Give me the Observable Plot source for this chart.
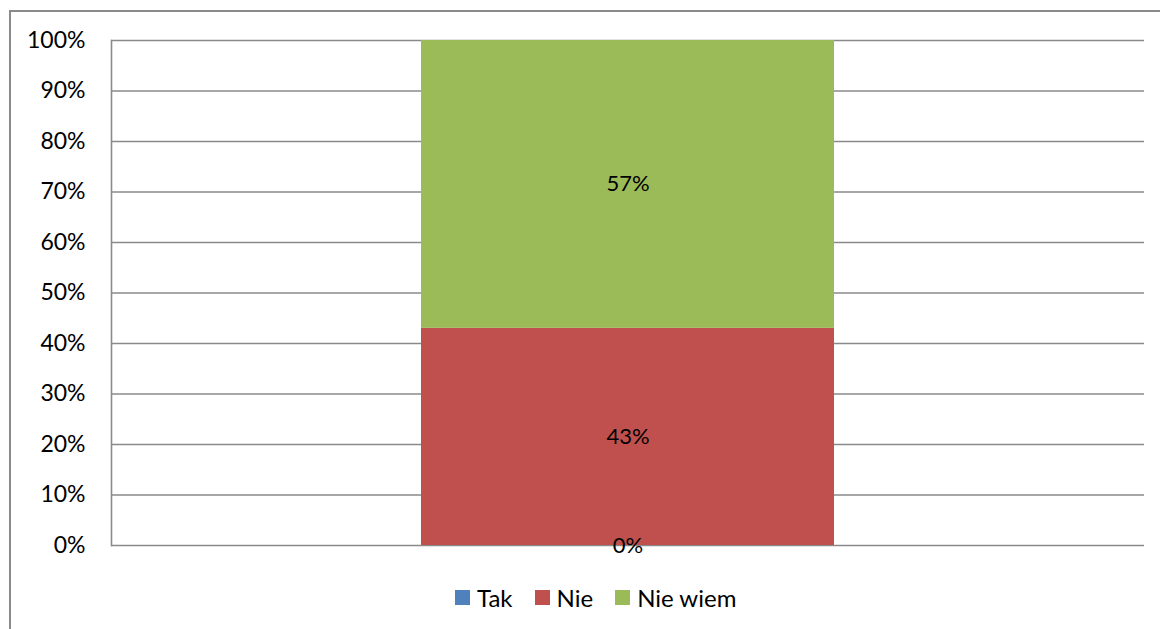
<!DOCTYPE html>
<html>
<head>
<meta charset="utf-8">
<script src="https://cdn.jsdelivr.net/npm/d3@7"></script>
<script src="https://cdn.jsdelivr.net/npm/@observablehq/plot@0.6"></script>
<style>
  html, body { margin: 0; padding: 0; background: #fff; overflow: hidden; width: 1160px; height: 629px; }
  #frame { position: absolute; left: 9px; top: 10px; width: 1200px; height: 700px;
           border-left: 2px solid #8a8a8a; border-top: 2px solid #8a8a8a; box-sizing: border-box; }
  #chart { position: absolute; left: 0; top: 0; }
  #legend { position: absolute; left: 455px; top: 583px; display: flex; align-items: center;
            font-family: Lato, "Open Sans", sans-serif; font-size: 24px; color: #000; }
  .item { display: flex; align-items: center; margin-right: 22px; }
  .sw { width: 15px; height: 15px; margin-right: 7px; }
</style>
</head>
<body>
<div id="frame"></div>
<div id="chart"></div>
<div id="legend"></div>
<script>
const categories = ["Q"];
const seriesNames = ["Tak", "Nie", "Nie wiem"];
const seriesValues = [0, 0.43, 0.57];
const seriesColors = ["#4F81BD", "#C0504D", "#9BBB59"];
const yTicks = [0, 0.1, 0.2, 0.3, 0.4, 0.5, 0.6, 0.7, 0.8, 0.9, 1.0];

const data = seriesNames.map((s, i) => ({category: categories[0], series: s, value: seriesValues[i]}));
const pct = d3.format(".0%");

const chart = Plot.plot({
  width: 1160,
  height: 575,
  marginLeft: 111,
  marginRight: 16,
  marginTop: 40,
  marginBottom: 30,
  style: {fontFamily: "Lato, 'Open Sans', sans-serif", fontSize: "22px", color: "#000", background: "transparent"},
  x: {domain: categories, paddingInner: 0.6, paddingOuter: 0.3, axis: null},
  y: {domain: [0, 1], ticks: yTicks, tickFormat: pct, label: null, tickSize: 0, tickPadding: 26},
  color: {domain: seriesNames, range: seriesColors},
  marks: [
    Plot.ruleY(yTicks, {stroke: "#8a8a8a", strokeWidth: 1.6, strokeOpacity: 1}),
    Plot.frame({anchor: "left", stroke: "#8a8a8a", strokeWidth: 1.6}),
    Plot.barY(data, {x: "category", y: "value", fill: "series"}),
    Plot.text(data, Plot.stackY({x: "category", y: "value", z: "series", text: d => pct(d.value), fill: "#000", fontSize: 22})),
    Plot.axisY({ticks: yTicks, tickFormat: pct, tickSize: 0, tickPadding: 26, fontSize: 23, label: null})
  ]
});
document.getElementById("chart").appendChild(chart);

const legend = document.getElementById("legend");
seriesNames.forEach((s, i) => {
  const it = document.createElement("div");
  it.className = "item";
  const sw = document.createElement("div");
  sw.className = "sw";
  sw.style.background = seriesColors[i];
  const t = document.createElement("span");
  t.textContent = s;
  it.appendChild(sw); it.appendChild(t);
  legend.appendChild(it);
});
</script>
</body>
</html>
